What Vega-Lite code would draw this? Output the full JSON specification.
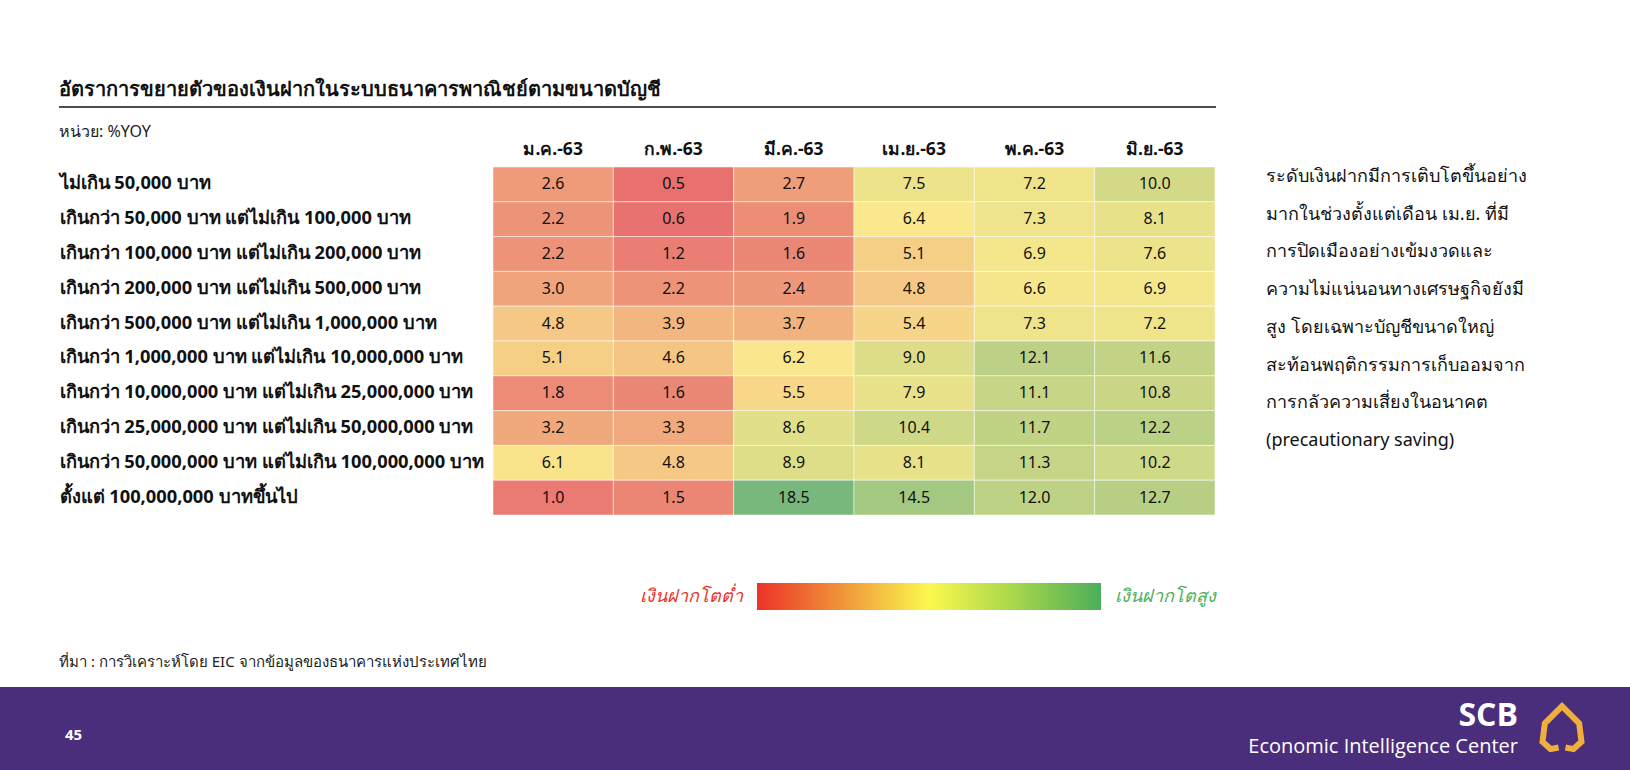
{
  "$schema": "https://vega.github.io/schema/vega-lite/v6.json",
  "width": 722,
  "height": 348,
  "autosize": {"type": "none"},
  "padding": {"left": 493, "top": 167, "right": 415, "bottom": 255},
  "background": "#ffffff",
  "config": {"view": {"stroke": null}, "font": "Noto Sans"},
  "data": {"values": [
    {"size": "ไม่เกิน 50,000 บาท", "month": "ม.ค.-63", "value": 2.6},
    {"size": "ไม่เกิน 50,000 บาท", "month": "ก.พ.-63", "value": 0.5},
    {"size": "ไม่เกิน 50,000 บาท", "month": "มี.ค.-63", "value": 2.7},
    {"size": "ไม่เกิน 50,000 บาท", "month": "เม.ย.-63", "value": 7.5},
    {"size": "ไม่เกิน 50,000 บาท", "month": "พ.ค.-63", "value": 7.2},
    {"size": "ไม่เกิน 50,000 บาท", "month": "มิ.ย.-63", "value": 10.0},
    {"size": "เกินกว่า 50,000 บาท แต่ไม่เกิน 100,000 บาท", "month": "ม.ค.-63", "value": 2.2},
    {"size": "เกินกว่า 50,000 บาท แต่ไม่เกิน 100,000 บาท", "month": "ก.พ.-63", "value": 0.6},
    {"size": "เกินกว่า 50,000 บาท แต่ไม่เกิน 100,000 บาท", "month": "มี.ค.-63", "value": 1.9},
    {"size": "เกินกว่า 50,000 บาท แต่ไม่เกิน 100,000 บาท", "month": "เม.ย.-63", "value": 6.4},
    {"size": "เกินกว่า 50,000 บาท แต่ไม่เกิน 100,000 บาท", "month": "พ.ค.-63", "value": 7.3},
    {"size": "เกินกว่า 50,000 บาท แต่ไม่เกิน 100,000 บาท", "month": "มิ.ย.-63", "value": 8.1},
    {"size": "เกินกว่า 100,000 บาท แต่ไม่เกิน 200,000 บาท", "month": "ม.ค.-63", "value": 2.2},
    {"size": "เกินกว่า 100,000 บาท แต่ไม่เกิน 200,000 บาท", "month": "ก.พ.-63", "value": 1.2},
    {"size": "เกินกว่า 100,000 บาท แต่ไม่เกิน 200,000 บาท", "month": "มี.ค.-63", "value": 1.6},
    {"size": "เกินกว่า 100,000 บาท แต่ไม่เกิน 200,000 บาท", "month": "เม.ย.-63", "value": 5.1},
    {"size": "เกินกว่า 100,000 บาท แต่ไม่เกิน 200,000 บาท", "month": "พ.ค.-63", "value": 6.9},
    {"size": "เกินกว่า 100,000 บาท แต่ไม่เกิน 200,000 บาท", "month": "มิ.ย.-63", "value": 7.6},
    {"size": "เกินกว่า 200,000 บาท แต่ไม่เกิน 500,000 บาท", "month": "ม.ค.-63", "value": 3.0},
    {"size": "เกินกว่า 200,000 บาท แต่ไม่เกิน 500,000 บาท", "month": "ก.พ.-63", "value": 2.2},
    {"size": "เกินกว่า 200,000 บาท แต่ไม่เกิน 500,000 บาท", "month": "มี.ค.-63", "value": 2.4},
    {"size": "เกินกว่า 200,000 บาท แต่ไม่เกิน 500,000 บาท", "month": "เม.ย.-63", "value": 4.8},
    {"size": "เกินกว่า 200,000 บาท แต่ไม่เกิน 500,000 บาท", "month": "พ.ค.-63", "value": 6.6},
    {"size": "เกินกว่า 200,000 บาท แต่ไม่เกิน 500,000 บาท", "month": "มิ.ย.-63", "value": 6.9},
    {"size": "เกินกว่า 500,000 บาท แต่ไม่เกิน 1,000,000 บาท", "month": "ม.ค.-63", "value": 4.8},
    {"size": "เกินกว่า 500,000 บาท แต่ไม่เกิน 1,000,000 บาท", "month": "ก.พ.-63", "value": 3.9},
    {"size": "เกินกว่า 500,000 บาท แต่ไม่เกิน 1,000,000 บาท", "month": "มี.ค.-63", "value": 3.7},
    {"size": "เกินกว่า 500,000 บาท แต่ไม่เกิน 1,000,000 บาท", "month": "เม.ย.-63", "value": 5.4},
    {"size": "เกินกว่า 500,000 บาท แต่ไม่เกิน 1,000,000 บาท", "month": "พ.ค.-63", "value": 7.3},
    {"size": "เกินกว่า 500,000 บาท แต่ไม่เกิน 1,000,000 บาท", "month": "มิ.ย.-63", "value": 7.2},
    {"size": "เกินกว่า 1,000,000 บาท แต่ไม่เกิน 10,000,000 บาท", "month": "ม.ค.-63", "value": 5.1},
    {"size": "เกินกว่า 1,000,000 บาท แต่ไม่เกิน 10,000,000 บาท", "month": "ก.พ.-63", "value": 4.6},
    {"size": "เกินกว่า 1,000,000 บาท แต่ไม่เกิน 10,000,000 บาท", "month": "มี.ค.-63", "value": 6.2},
    {"size": "เกินกว่า 1,000,000 บาท แต่ไม่เกิน 10,000,000 บาท", "month": "เม.ย.-63", "value": 9.0},
    {"size": "เกินกว่า 1,000,000 บาท แต่ไม่เกิน 10,000,000 บาท", "month": "พ.ค.-63", "value": 12.1},
    {"size": "เกินกว่า 1,000,000 บาท แต่ไม่เกิน 10,000,000 บาท", "month": "มิ.ย.-63", "value": 11.6},
    {"size": "เกินกว่า 10,000,000 บาท แต่ไม่เกิน 25,000,000 บาท", "month": "ม.ค.-63", "value": 1.8},
    {"size": "เกินกว่า 10,000,000 บาท แต่ไม่เกิน 25,000,000 บาท", "month": "ก.พ.-63", "value": 1.6},
    {"size": "เกินกว่า 10,000,000 บาท แต่ไม่เกิน 25,000,000 บาท", "month": "มี.ค.-63", "value": 5.5},
    {"size": "เกินกว่า 10,000,000 บาท แต่ไม่เกิน 25,000,000 บาท", "month": "เม.ย.-63", "value": 7.9},
    {"size": "เกินกว่า 10,000,000 บาท แต่ไม่เกิน 25,000,000 บาท", "month": "พ.ค.-63", "value": 11.1},
    {"size": "เกินกว่า 10,000,000 บาท แต่ไม่เกิน 25,000,000 บาท", "month": "มิ.ย.-63", "value": 10.8},
    {"size": "เกินกว่า 25,000,000 บาท แต่ไม่เกิน 50,000,000 บาท", "month": "ม.ค.-63", "value": 3.2},
    {"size": "เกินกว่า 25,000,000 บาท แต่ไม่เกิน 50,000,000 บาท", "month": "ก.พ.-63", "value": 3.3},
    {"size": "เกินกว่า 25,000,000 บาท แต่ไม่เกิน 50,000,000 บาท", "month": "มี.ค.-63", "value": 8.6},
    {"size": "เกินกว่า 25,000,000 บาท แต่ไม่เกิน 50,000,000 บาท", "month": "เม.ย.-63", "value": 10.4},
    {"size": "เกินกว่า 25,000,000 บาท แต่ไม่เกิน 50,000,000 บาท", "month": "พ.ค.-63", "value": 11.7},
    {"size": "เกินกว่า 25,000,000 บาท แต่ไม่เกิน 50,000,000 บาท", "month": "มิ.ย.-63", "value": 12.2},
    {"size": "เกินกว่า 50,000,000 บาท แต่ไม่เกิน 100,000,000 บาท", "month": "ม.ค.-63", "value": 6.1},
    {"size": "เกินกว่า 50,000,000 บาท แต่ไม่เกิน 100,000,000 บาท", "month": "ก.พ.-63", "value": 4.8},
    {"size": "เกินกว่า 50,000,000 บาท แต่ไม่เกิน 100,000,000 บาท", "month": "มี.ค.-63", "value": 8.9},
    {"size": "เกินกว่า 50,000,000 บาท แต่ไม่เกิน 100,000,000 บาท", "month": "เม.ย.-63", "value": 8.1},
    {"size": "เกินกว่า 50,000,000 บาท แต่ไม่เกิน 100,000,000 บาท", "month": "พ.ค.-63", "value": 11.3},
    {"size": "เกินกว่า 50,000,000 บาท แต่ไม่เกิน 100,000,000 บาท", "month": "มิ.ย.-63", "value": 10.2},
    {"size": "ตั้งแต่ 100,000,000 บาทขึ้นไป", "month": "ม.ค.-63", "value": 1.0},
    {"size": "ตั้งแต่ 100,000,000 บาทขึ้นไป", "month": "ก.พ.-63", "value": 1.5},
    {"size": "ตั้งแต่ 100,000,000 บาทขึ้นไป", "month": "มี.ค.-63", "value": 18.5},
    {"size": "ตั้งแต่ 100,000,000 บาทขึ้นไป", "month": "เม.ย.-63", "value": 14.5},
    {"size": "ตั้งแต่ 100,000,000 บาทขึ้นไป", "month": "พ.ค.-63", "value": 12.0},
    {"size": "ตั้งแต่ 100,000,000 บาทขึ้นไป", "month": "มิ.ย.-63", "value": 12.7}
  ]},
  "encoding": {
    "x": {
      "field": "month", "type": "nominal",
      "sort": ["ม.ค.-63", "ก.พ.-63", "มี.ค.-63", "เม.ย.-63", "พ.ค.-63", "มิ.ย.-63"],
      "scale": {"paddingInner": 0, "paddingOuter": 0},
      "axis": {"orient": "top", "title": null, "domain": false, "ticks": false, "tickSize": 0, "labelAngle": 0,
               "labelPadding": 18, "labelBaseline": "middle", "labelFontSize": 17.5, "labelFontWeight": "bold", "labelColor": "#111111"}
    },
    "y": {
      "field": "size", "type": "nominal",
      "sort": ["ไม่เกิน 50,000 บาท", "เกินกว่า 50,000 บาท แต่ไม่เกิน 100,000 บาท", "เกินกว่า 100,000 บาท แต่ไม่เกิน 200,000 บาท", "เกินกว่า 200,000 บาท แต่ไม่เกิน 500,000 บาท", "เกินกว่า 500,000 บาท แต่ไม่เกิน 1,000,000 บาท", "เกินกว่า 1,000,000 บาท แต่ไม่เกิน 10,000,000 บาท", "เกินกว่า 10,000,000 บาท แต่ไม่เกิน 25,000,000 บาท", "เกินกว่า 25,000,000 บาท แต่ไม่เกิน 50,000,000 บาท", "เกินกว่า 50,000,000 บาท แต่ไม่เกิน 100,000,000 บาท", "ตั้งแต่ 100,000,000 บาทขึ้นไป"],
      "scale": {"paddingInner": 0, "paddingOuter": 0},
      "axis": {"title": null, "domain": false, "ticks": false, "tickSize": 0, "labelAlign": "left", "labelPadding": 434,
               "labelLimit": 600, "labelFontSize": 18.3, "labelFontWeight": "bold", "labelColor": "#111111"}
    }
  },
  "layer": [
    {
      "mark": {"type": "rect", "stroke": "#ffffff", "strokeWidth": 1, "strokeOpacity": 0.5},
      "encoding": {
        "color": {"field": "value", "type": "quantitative", "legend": null,
                  "scale": {"type": "linear", "domain": [0.5, 6.3, 18.5], "range": ["#e8706f", "#fae88c", "#78b87d"], "interpolate": "rgb"}}
      }
    },
    {
      "mark": {"type": "text", "fontSize": 16, "color": "#111111"},
      "encoding": {"text": {"field": "value", "type": "quantitative", "format": ".1f"}}
    },
    {
      "data": {"values": [{}]},
      "mark": {"type": "text", "align": "left", "baseline": "middle", "fontSize": 20, "fontWeight": "bold", "color": "#111111"},
      "encoding": {"x": {"value": -434}, "y": {"value": -77}, "text": {"value": "อัตราการขยายตัวของเงินฝากในระบบธนาคารพาณิชย์ตามขนาดบัญชี"}}
    },
    {
      "data": {"values": [{}]},
      "mark": {"type": "rule", "color": "#111111", "strokeWidth": 1.5},
      "encoding": {"x": {"value": -434}, "x2": {"value": 723}, "y": {"value": -60}}
    },
    {
      "data": {"values": [{}]},
      "mark": {"type": "text", "align": "left", "baseline": "middle", "fontSize": 16, "color": "#222222"},
      "encoding": {"x": {"value": -434}, "y": {"value": -35}, "text": {"value": "หน่วย: %YOY"}}
    },
    {
      "data": {"values": [{}]},
      "mark": {"type": "text", "align": "left", "baseline": "middle", "fontSize": 18, "lineHeight": 37.7, "color": "#111111"},
      "encoding": {"x": {"value": 773}, "y": {"value": 10},
        "text": {"value": ["ระดับเงินฝากมีการเติบโตขึ้นอย่าง", "มากในช่วงตั้งแต่เดือน เม.ย. ที่มี", "การปิดเมืองอย่างเข้มงวดและ", "ความไม่แน่นอนทางเศรษฐกิจยังมี", "สูง โดยเฉพาะบัญชีขนาดใหญ่", "สะท้อนพฤติกรรมการเก็บออมจาก", "การกลัวความเสี่ยงในอนาคต", "(precautionary saving)"]}}
    },
    {
      "data": {"values": [{}]},
      "mark": {"type": "rect", "fill": {"gradient": "linear", "x1": 0, "y1": 0, "x2": 1, "y2": 0,
        "stops": [{"offset": 0, "color": "#ec3228"}, {"offset": 0.25, "color": "#f0963a"}, {"offset": 0.5, "color": "#fcf84e"}, {"offset": 0.75, "color": "#a6d64c"}, {"offset": 1, "color": "#4cae5a"}]}},
      "encoding": {"x": {"value": 264}, "x2": {"value": 608}, "y": {"value": 416}, "y2": {"value": 443}}
    },
    {
      "data": {"values": [{}]},
      "mark": {"type": "text", "align": "right", "baseline": "middle", "fontSize": 18, "fontStyle": "italic", "color": "#e8322a"},
      "encoding": {"x": {"value": 250}, "y": {"value": 430}, "text": {"value": "เงินฝากโตต่ำ"}}
    },
    {
      "data": {"values": [{}]},
      "mark": {"type": "text", "align": "left", "baseline": "middle", "fontSize": 18, "fontStyle": "italic", "color": "#4cae5a"},
      "encoding": {"x": {"value": 622}, "y": {"value": 430}, "text": {"value": "เงินฝากโตสูง"}}
    },
    {
      "data": {"values": [{}]},
      "mark": {"type": "text", "align": "left", "baseline": "middle", "fontSize": 15, "color": "#222222"},
      "encoding": {"x": {"value": -434}, "y": {"value": 495}, "text": {"value": "ที่มา : การวิเคราะห์โดย EIC จากข้อมูลของธนาคารแห่งประเทศไทย"}}
    },
    {
      "data": {"values": [{}]},
      "mark": {"type": "rect", "color": "#4b2e7b"},
      "encoding": {"x": {"value": -493}, "x2": {"value": 1137}, "y": {"value": 520}, "y2": {"value": 603}}
    },
    {
      "data": {"values": [{}]},
      "mark": {"type": "text", "align": "left", "baseline": "middle", "fontSize": 15, "fontWeight": "bold", "color": "#ffffff"},
      "encoding": {"x": {"value": -428}, "y": {"value": 568}, "text": {"value": "45"}}
    },
    {
      "data": {"values": [{}]},
      "mark": {"type": "text", "align": "right", "baseline": "middle", "fontSize": 32, "fontWeight": "bold", "font": "Open Sans", "color": "#ffffff"},
      "encoding": {"x": {"value": 1025}, "y": {"value": 549}, "text": {"value": "SCB"}}
    },
    {
      "data": {"values": [{}]},
      "mark": {"type": "text", "align": "right", "baseline": "middle", "fontSize": 20, "font": "Open Sans", "color": "#ffffff"},
      "encoding": {"x": {"value": 1025}, "y": {"value": 580}, "text": {"value": "Economic Intelligence Center"}}
    },
    {
      "data": {"values": [{}]},
      "mark": {"type": "point", "filled": false, "stroke": "#f0ae3c", "strokeWidth": 6, "opacity": 1, "size": 2100,
               "shape": "M0.15,0.85 L0.5,0.92 L0.85,0.6 L0.75,-0.2 L0,-0.95 L-0.75,-0.2 L-0.85,0.6 L-0.5,0.92 L-0.15,0.85"},
      "encoding": {"x": {"value": 1069}, "y": {"value": 561}}
    }
  ]
}
